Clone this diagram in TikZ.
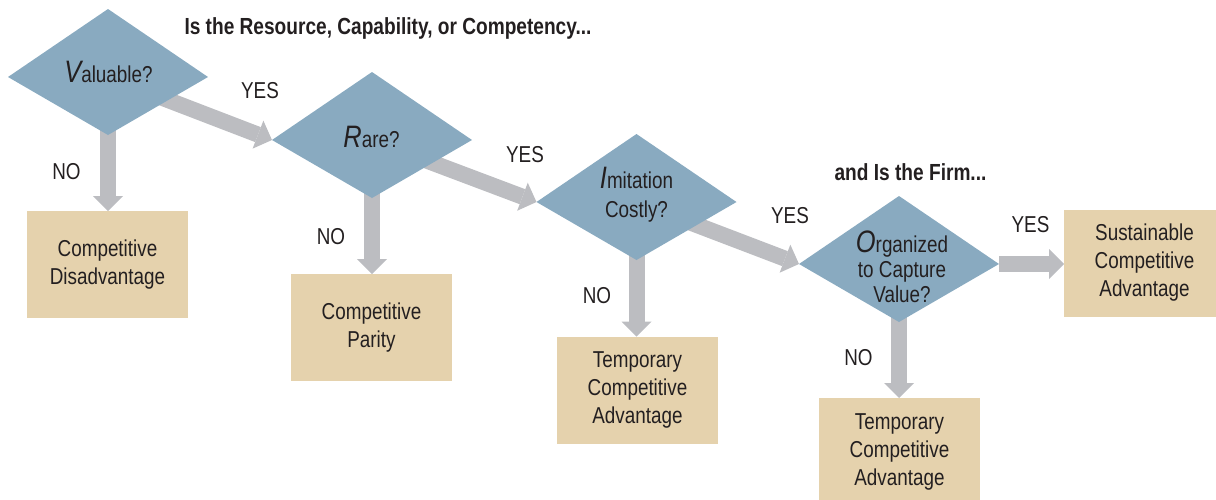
\documentclass[tikz,border=0pt]{standalone}
\usepackage{fontspec}
\setmainfont{Liberation Sans}[FakeStretch=0.82]
\usetikzlibrary{shapes.geometric,arrows.meta}
\definecolor{dblue}{HTML}{89AAC0}
\definecolor{tanbox}{HTML}{E5D2AD}
\definecolor{agray}{HTML}{BCBDC1}
\definecolor{ink}{HTML}{231F20}
\newcommand{\fsmain}{\fontsize{23}{28}\selectfont}
\newcommand{\fsbig}{\fontsize{31}{29}\selectfont\itshape}
\newcommand{\fstitle}{\fontsize{23.3}{27}\selectfont\bfseries}
\pgfdeclarelayer{bg}
\pgfsetlayers{bg,main}
\begin{document}
\begin{tikzpicture}[x=1pt,y=-1pt,
  kite/.style={diamond, draw=none, inner sep=0pt, outer sep=0pt, minimum width=200pt, minimum height=136pt},
  outcome/.style={rectangle, fill=tanbox, inner sep=0pt, outer sep=0pt, minimum width=161pt, minimum height=107pt, align=center, font=\fsmain, text=ink},
  flow/.style={draw=agray, line width=16pt, -{Triangle[width=30pt,length=15pt,line width=0pt]}},
  lbl/.style={font=\fsmain, text=ink, inner sep=0pt, anchor=base},
  qtext/.style={text=ink, inner sep=0pt, anchor=base, align=center},
  head/.style={font=\fstitle, text=ink, inner sep=0pt, anchor=base}]

\useasboundingbox (0,0) rectangle (1216,499);

% decision kites
\node[kite] (d1) at (108,77) {};
\node[kite] (d2) at (372,140) {};
\node[kite] (d3) at (636.5,202) {};
\node[kite] (d4) at (899,264) {};
\foreach \d in {d1,d2,d3,d4}
  \fill[dblue] (\d.north) -- (\d.east) -- ([yshift=10pt]\d.south) -- (\d.west) -- cycle;

% outcomes
\node[outcome] (b1) at (107.5,264.5) {Competitive\\Disadvantage};
\node[outcome] (b2) at (371.5,327.5) {Competitive\\Parity};
\node[outcome] (b3) at (637.5,390) {Temporary\\Competitive\\Advantage};
\node[outcome] (b4) at (899.5,451.5) {Temporary\\Competitive\\Advantage};
\node[outcome] (b5) at (1144.5,263) {Sustainable\\Competitive\\Advantage};

% arrows
\begin{pgfonlayer}{bg}
\draw[flow] (d1.center) -- (d1.center |- b1.north);
\draw[flow] (d2.center) -- (d2.center |- b2.north);
\draw[flow] (d3.center) -- (d3.center |- b3.north);
\draw[flow] (d4.center) -- (d4.center |- b4.north);
\draw[flow] (d1.center) -- (d2.west);
\draw[flow] (d2.center) -- (d3.west);
\draw[flow] (d3.center) -- (d4.west);
\draw[flow] (d4.east) -- (d4.east -| b5.west);
\end{pgfonlayer}

% question texts (base anchor = baseline of the last line)
\node[qtext, font=\fsmain] (q1) at (108.5,82) {{\fsbig V}aluable?};
\node[qtext, font=\fsmain] (q2) at (371.5,147) {{\fsbig R}are?};
\node[qtext, font=\fontsize{23}{29}\selectfont] (q3) at (636.5,217) {{\fsbig I}mitation\\Costly?};
\node[qtext, font=\fontsize{23}{25}\selectfont] (q4) at (902,302) {{\fsbig O}rganized\\to Capture\\Value?};

% headings
\node[head] (h1) at (388,34) {Is the Resource, Capability, or Competency...};
\node[head] (h2) at (910.5,180) {and Is the Firm...};

% yes / no labels
\node[lbl] (y1) at (260,98) {YES};
\node[lbl] (y2) at (525,162) {YES};
\node[lbl] (y3) at (790,223) {YES};
\node[lbl] (y4) at (1030.5,232) {YES};
\node[lbl] (n1) at (66.5,179) {NO};
\node[lbl] (n2) at (331,244) {NO};
\node[lbl] (n3) at (597,303) {NO};
\node[lbl] (n4) at (858.5,365) {NO};
\end{tikzpicture}
\end{document}
